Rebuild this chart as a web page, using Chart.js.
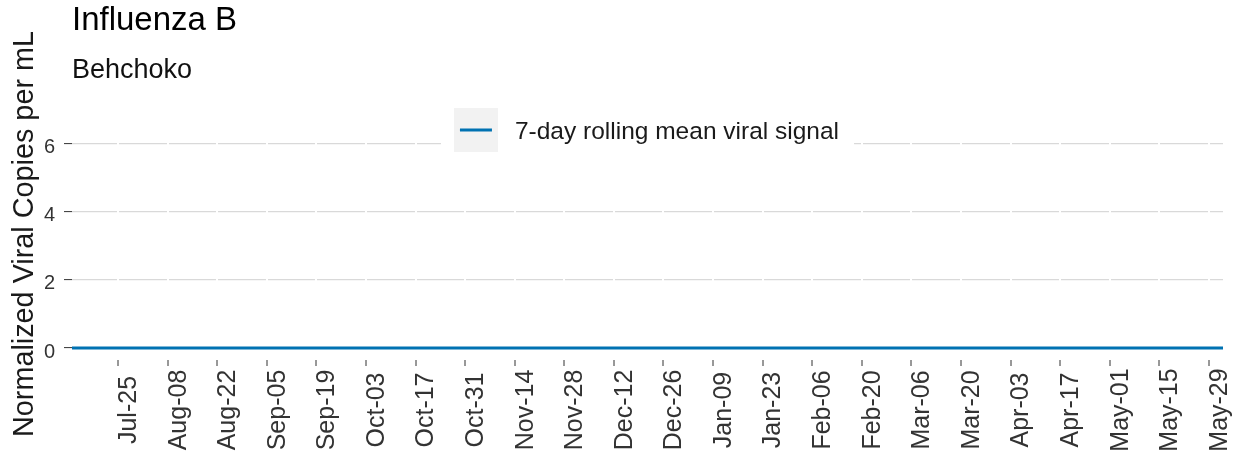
<!DOCTYPE html>
<html>
<head>
<meta charset="utf-8">
<script src="https://cdn.jsdelivr.net/npm/chart.js@4"></script>
<style>
html,body{margin:0;padding:0;background:#ffffff;}
#wrap{width:1238px;height:456px;}
</style>
</head>
<body>
<div id="wrap"><canvas id="c" width="1238" height="456"></canvas></div>
<script>
// ---- data ----
const seriesDates = ['2022-07-12','2022-07-25','2022-08-08','2022-08-22','2022-09-05','2022-09-19','2022-10-03','2022-10-17','2022-10-31','2022-11-14','2022-11-28','2022-12-12','2022-12-26','2023-01-09','2023-01-23','2023-02-06','2023-02-20','2023-03-06','2023-03-20','2023-04-03','2023-04-17','2023-05-01','2023-05-15','2023-05-29','2023-06-02'];
const rollingMean = [0,0,0,0,0,0,0,0,0,0,0,0,0,0,0,0,0,0,0,0,0,0,0,0,0];
const tickDates = ['2022-07-25','2022-08-08','2022-08-22','2022-09-05','2022-09-19','2022-10-03','2022-10-17','2022-10-31','2022-11-14','2022-11-28','2022-12-12','2022-12-26','2023-01-09','2023-01-23','2023-02-06','2023-02-20','2023-03-06','2023-03-20','2023-04-03','2023-04-17','2023-05-01','2023-05-15','2023-05-29'];
const tickLabels = ['Jul-25','Aug-08','Aug-22','Sep-05','Sep-19','Oct-03','Oct-17','Oct-31','Nov-14','Nov-28','Dec-12','Dec-26','Jan-09','Jan-23','Feb-06','Feb-20','Mar-06','Mar-20','Apr-03','Apr-17','May-01','May-15','May-29'];
const yTickValues = [0, 2, 4, 6];
const xStart = '2022-07-12';
const xEnd = '2023-06-02';
const yMin = -0.352;
const yMax = 7.514;
const seriesLabel = '7-day rolling mean viral signal';

function dayNum(s) {
  const p = s.split('-').map(Number);
  return Date.UTC(p[0], p[1] - 1, p[2]) / 86400000;
}

const FONT = "'Liberation Sans', Arial, sans-serif";
Chart.defaults.font.family = FONT;

const legendOverlay = {
  id: 'legendOverlay',
  beforeDatasetsDraw(chart) {
    const ctx = chart.ctx, ca = chart.chartArea;
    const ds = chart.data.datasets[0];
    ctx.save();
    ctx.font = '24.5px ' + FONT;
    const tw = ctx.measureText(ds.label).width;
    const key = 44, gap = 17, padL = 13, padR = 15;
    const w = padL + key + gap + tw + padR;
    const x0 = (ca.left + ca.right) / 2 - w / 2;
    const keyTop = ca.top + 16;
    ctx.fillStyle = '#ffffff';
    ctx.fillRect(x0, keyTop - 4, w, key + 8);
    ctx.fillStyle = '#F2F2F2';
    ctx.fillRect(x0 + padL, keyTop, key, key);
    ctx.strokeStyle = ds.borderColor;
    ctx.lineWidth = 3;
    ctx.beginPath();
    ctx.moveTo(x0 + padL + 6, keyTop + key / 2);
    ctx.lineTo(x0 + padL + key - 6, keyTop + key / 2);
    ctx.stroke();
    ctx.fillStyle = '#1a1a1a';
    ctx.textAlign = 'left';
    ctx.textBaseline = 'middle';
    ctx.fillText(ds.label, x0 + padL + key + gap, keyTop + key / 2 + 2);
    ctx.restore();
  }
};

new Chart(document.getElementById('c'), {
  type: 'line',
  data: {
    datasets: [{
      label: seriesLabel,
      data: seriesDates.map((d, i) => ({ x: dayNum(d), y: rollingMean[i] })),
      borderColor: '#0072B2',
      borderWidth: 3,
      pointRadius: 0,
      fill: false,
      tension: 0
    }]
  },
  options: {
    responsive: false,
    animation: false,
    devicePixelRatio: 1,
    layout: { padding: { left: 0, right: 15, top: 0, bottom: 0 } },
    plugins: {
      legend: { display: false },
      tooltip: { enabled: false },
      title: {
        display: true, text: 'Influenza B', align: 'start', fullSize: false,
        font: { size: 33, weight: 'normal' }, color: '#000000',
        padding: { top: 1.6, bottom: 5.2 }
      },
      subtitle: {
        display: true, text: 'Behchoko', align: 'start', fullSize: false,
        font: { size: 27, weight: 'normal' }, color: '#111111',
        padding: { top: 8.4, bottom: 4.8 }
      }
    },
    scales: {
      y: {
        type: 'linear', min: yMin, max: yMax,
        afterBuildTicks: s => { s.ticks = yTickValues.map(v => ({ value: v })); },
        afterFit: s => { s.width = 72; },
        grid: { color: '#D9D9D9', lineWidth: 1.2, z: -2, tickLength: 8, tickColor: '#333333', tickWidth: 1 },
        border: { display: false },
        ticks: { padding: 9, labelOffset: 4, font: { size: 20 }, color: '#333333' },
        title: {
          display: true, text: 'Normalized Viral Copies per mL\u00A0\u00A0',
          font: { size: 28.8 }, color: '#1a1a1a', padding: { top: 7.5, bottom: 2 }
        }
      },
      x: {
        type: 'linear', min: dayNum(xStart), max: dayNum(xEnd),
        afterBuildTicks: s => { s.ticks = tickDates.map(d => ({ value: dayNum(d) })); },
        beforeUpdate: s => { s._getXAxisLabelAlignment = () => 'center'; },
        afterFit: s => { s.height = 96; s.paddingLeft = 0; s.paddingRight = 0; },
        grid: { color: '#ffffff', lineWidth: 2, z: -1, tickLength: 6, tickColor: '#333333', tickWidth: 1 },
        border: { display: false },
        ticks: {
          autoSkip: false, minRotation: 90, maxRotation: 90,
          padding: 44, labelOffset: 11, font: { size: 25 }, color: '#333333',
          callback: (v, i) => tickLabels[i]
        }
      }
    }
  },
  plugins: [legendOverlay]
});
</script>
</body>
</html>
